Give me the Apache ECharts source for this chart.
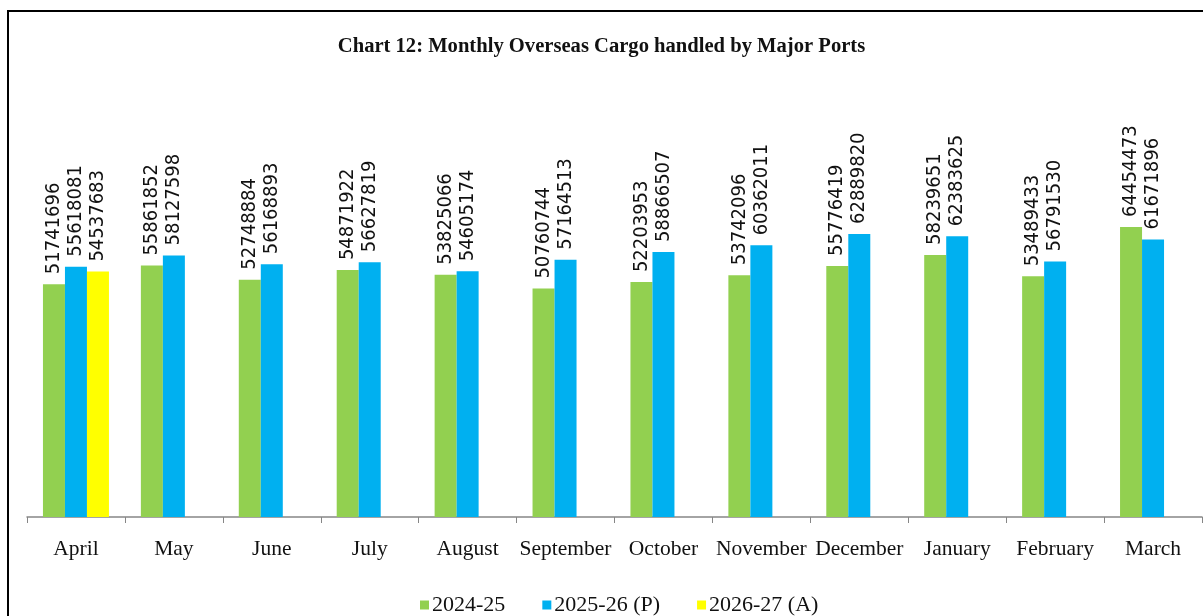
<!DOCTYPE html>
<html>
<head>
<meta charset="utf-8">
<script src="https://cdn.jsdelivr.net/npm/echarts@6/dist/echarts.min.js"></script>
<style>
html,body{margin:0;padding:0;background:#fff;}
#c{width:1203px;height:616px;}
</style>
</head>
<body>
<div id="c"></div>
<script>
const categories = ['April','May','June','July','August','September','October','November','December','January','February','March'];
const seriesNames = ['2024-25','2025-26 (P)','2026-27 (A)'];
const values2425 = [51741696,55861852,52748884,54871922,53825066,50760744,52203953,53742096,55776419,58239651,53489433,64454473];
const values2526 = [55618081,58127598,56168893,56627819,54605174,57164513,58866507,60362011,62889820,62383625,56791530,61671896];
const values2627 = [54537683,null,null,null,null,null,null,null,null,null,null,null];
const colors = ['#92D050','#00B0F0','#FFFF00'];

const chart = echarts.init(document.getElementById('c'));
const labelStyle = {
  show: true,
  position: 'top',
  rotate: 90,
  align: 'left',
  verticalAlign: 'middle',
  distance: 10,
  fontFamily: 'DejaVu Sans Condensed',
  fontSize: 20,
  color: '#111'
};
function mk(i, data) {
  return {
    name: seriesNames[i],
    type: 'bar',
    data: data,
    barWidth: 22,
    barGap: '0%',
    itemStyle: { color: colors[i] },
    label: labelStyle
  };
}
chart.setOption({
  animation: false,
  backgroundColor: '#fff',
  title: {
    text: 'Chart 12: Monthly Overseas Cargo handled by Major Ports',
    left: 'center',
    top: 31,
    textStyle: { fontFamily: 'Liberation Serif', fontWeight: 'bold', fontSize: 20.6, color: '#111' }
  },
  legend: {
    top: 589,
    left: 415,
    icon: 'rect',
    itemWidth: 9,
    itemHeight: 9,
    itemGap: 37,
    textStyle: { fontFamily: 'Liberation Serif', fontSize: 22, color: '#111', padding: [0,0,0,-2] }
  },
  grid: { left: 27, right: 1, top: 157, bottom: 99, containLabel: false },
  xAxis: {
    type: 'category',
    data: categories,
    axisLine: { lineStyle: { color: '#868686', width: 1.5 } },
    axisTick: { show: true, length: 6, lineStyle: { color: '#868686' } },
    axisLabel: { fontFamily: 'Liberation Serif', fontSize: 21.5, color: '#111', margin: 21, interval: 0 }
  },
  yAxis: {
    type: 'value',
    min: 0,
    max: 80000000,
    show: false,
    splitLine: { show: false }
  },
  series: [mk(0, values2425), mk(1, values2526), mk(2, values2627)],
  graphic: [{
    type: 'rect',
    shape: { x: 8, y: 11, width: 1210, height: 620 },
    style: { fill: 'none', stroke: '#000', lineWidth: 2 },
    silent: true
  }]
});
</script>
</body>
</html>
